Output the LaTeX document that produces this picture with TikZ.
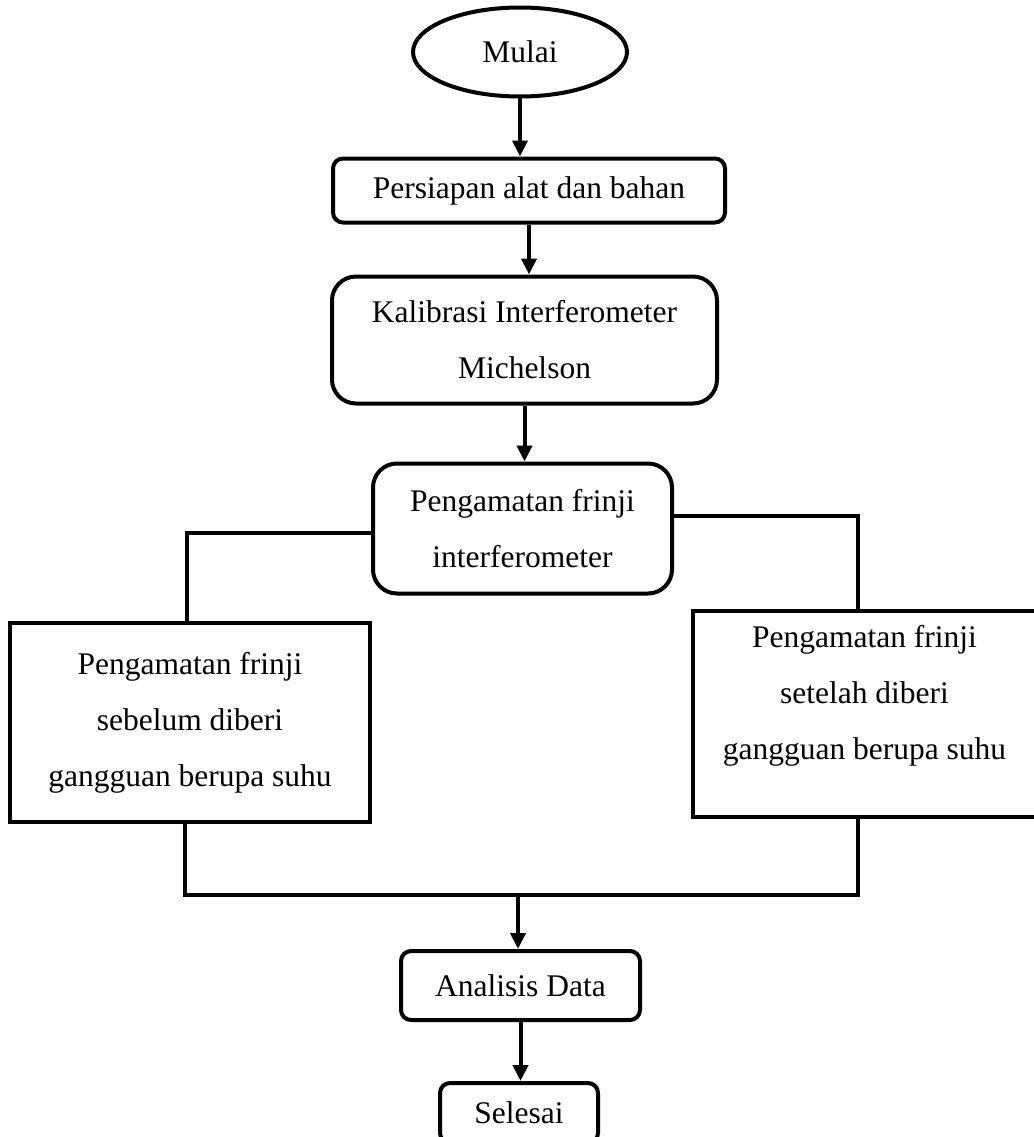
\documentclass[tikz,border=0pt]{standalone}
\usepackage{fontspec}
\setmainfont{Liberation Serif}
\usetikzlibrary{positioning,shapes.geometric,arrows.meta}

\tikzset{
  teks/.style={font=\fontsize{31.5}{56}\selectfont, align=center, line width=4pt, draw, inner sep=4pt},
  terminal/.style={teks, ellipse},
  proses/.style={teks, rectangle, rounded corners=#1},
  proses/.default=10pt,
  kotak/.style={teks, rectangle},
  alur/.style={line width=4pt, -{Triangle[width=15pt,length=16pt]}},
  garis/.style={line width=4pt}
}

\begin{document}
\begin{tikzpicture}[x=1pt, y=1pt]
  \useasboundingbox (0,0) rectangle (1033,-1137);

  %Define nodes
  \node[terminal, minimum width=214pt, minimum height=89pt] (mulai) at (520,-52) {Mulai};
  \node[proses, minimum width=392pt, minimum height=64pt, below=58pt of mulai, xshift=9pt] (persiapan) {Persiapan alat dan bahan};
  \node[proses=24pt, minimum width=385pt, minimum height=127pt, below=50pt of persiapan, xshift=-4.5pt] (kalibrasi) {Kalibrasi Interferometer\\Michelson};
  \node[proses=24pt, minimum width=299pt, minimum height=130pt, below=56pt of kalibrasi, xshift=-2pt] (frinji) {Pengamatan frinji\\interferometer};
  \node[kotak, minimum width=360pt, minimum height=199pt] (sebelum) at (190,-722.5) {Pengamatan frinji\\sebelum diberi\\gangguan berupa suhu};
  \node[kotak, minimum width=343pt, minimum height=206pt] (setelah) at (864.5,-714) {Pengamatan frinji\\setelah diberi\\gangguan berupa suhu\\[-12pt]};
  \coordinate (gabung) at (518,-895);
  \coordinate (kanan) at (858,-516);
  \node[proses, minimum width=239pt, minimum height=69pt, below=54pt of gabung, xshift=2.5pt] (analisis) {Analisis Data};
  \node[proses, minimum width=158pt, minimum height=60pt, below=59pt of analisis, xshift=-1.5pt] (selesai) {Selesai};

  % Connect the nodes
  \draw[alur] (mulai) -- (mulai |- persiapan.north);
  \draw[alur] (persiapan) -- (persiapan.south |- kalibrasi.north);
  \draw[alur] (kalibrasi) -- (kalibrasi.south |- frinji.north);
  \draw[garis] ([yshift=-4pt]frinji.west) -| (sebelum.north -| 187,0);
  \draw[garis] (frinji.east |- kanan) -- (kanan) -- (kanan |- setelah.north);
  \draw[garis] (sebelum.south -| 185,0) |- (gabung);
  \draw[garis] (setelah.south -| kanan) |- (gabung);
  \draw[alur] (gabung) -- (gabung |- analisis.north);
  \draw[alur] (analisis) -- (analisis.south |- selesai.north);

\end{tikzpicture}
\end{document}
